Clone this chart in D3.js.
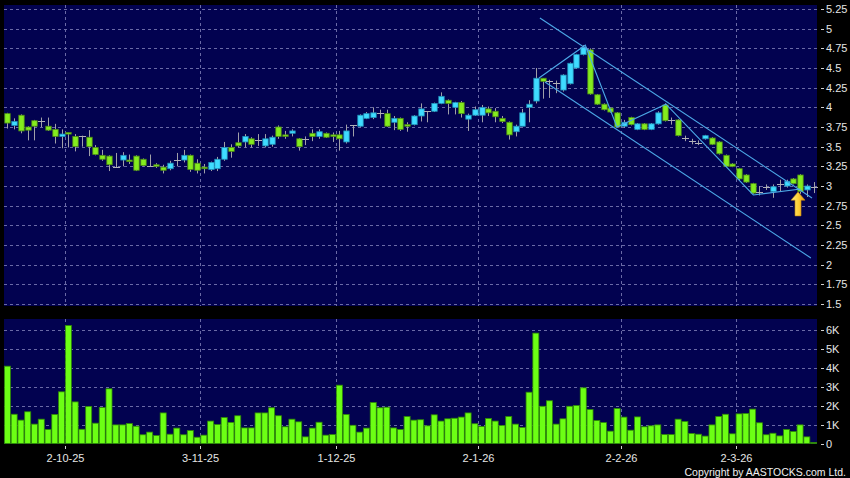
<!DOCTYPE html>
<html><head><meta charset="utf-8">
<script src="https://cdn.jsdelivr.net/npm/d3@7"></script>
<style>body{margin:0;background:#000;} svg{display:block;}</style>
</head><body><svg id="c" width="850" height="478"></svg>
<script>
const opens = [3.92,3.77,3.90,3.75,3.83,3.82,3.76,3.72,3.63,3.68,
3.63,3.63,3.62,3.49,3.39,3.38,3.24,3.33,3.33,3.38,
3.34,3.25,3.27,3.24,3.22,3.33,3.33,3.39,3.29,3.24,
3.21,3.22,3.34,3.49,3.55,3.56,3.60,3.59,3.51,3.53,
3.75,3.65,3.67,3.60,3.60,3.67,3.63,3.67,3.65,3.65,
3.56,3.77,3.76,3.86,3.87,3.93,3.92,3.81,3.86,3.78,
3.78,3.89,3.95,3.95,4.05,4.09,4.00,4.06,3.85,3.90,
3.90,3.98,3.95,3.86,3.81,3.69,3.76,4.00,4.08,4.37,
4.33,4.31,4.22,4.30,4.50,4.67,4.73,4.16,4.04,3.99,
3.93,3.76,3.87,3.72,3.79,3.72,3.79,4.03,3.84,3.84,
3.61,3.57,3.55,3.60,3.61,3.56,3.39,3.28,3.22,3.14,
3.03,2.93,2.99,2.93,3.02,3.00,3.09,3.14,2.95,2.99];
const highs = [3.93,3.86,3.91,3.76,3.84,3.87,3.87,3.79,3.72,3.68,
3.66,3.64,3.71,3.52,3.46,3.39,3.42,3.43,3.40,3.39,
3.35,3.40,3.29,3.27,3.32,3.42,3.46,3.40,3.34,3.28,
3.31,3.37,3.56,3.53,3.68,3.66,3.62,3.66,3.66,3.64,
3.77,3.70,3.72,3.61,3.63,3.72,3.72,3.68,3.68,3.70,
3.78,3.77,3.91,3.94,4.00,3.97,3.97,3.89,3.87,3.81,
3.90,4.05,3.95,4.06,4.19,4.10,4.07,4.08,3.92,4.01,
4.03,4.01,3.99,3.89,3.82,3.78,3.98,4.09,4.50,4.37,
4.35,4.34,4.42,4.57,4.68,4.79,4.75,4.17,4.05,4.00,
3.94,3.84,3.88,3.80,3.80,3.80,3.95,4.05,3.87,3.85,
3.64,3.60,3.58,3.65,3.62,3.57,3.40,3.29,3.23,3.15,
3.04,3.00,3.02,3.02,3.08,3.08,3.10,3.15,3.02,3.05];
const lows = [3.73,3.72,3.67,3.58,3.58,3.75,3.70,3.54,3.48,3.49,
3.44,3.50,3.38,3.39,3.32,3.19,3.23,3.25,3.28,3.19,
3.25,3.25,3.23,3.16,3.20,3.25,3.30,3.18,3.16,3.16,
3.19,3.19,3.32,3.36,3.49,3.49,3.49,3.51,3.49,3.50,
3.60,3.60,3.63,3.45,3.52,3.57,3.60,3.61,3.56,3.45,
3.54,3.63,3.75,3.85,3.85,3.86,3.75,3.71,3.70,3.69,
3.77,3.82,3.81,3.94,4.04,3.91,3.91,3.87,3.70,3.89,
3.81,3.89,3.81,3.80,3.59,3.63,3.76,3.81,4.05,4.11,
4.12,4.18,4.20,4.29,4.49,4.66,4.16,4.03,3.96,3.93,
3.74,3.74,3.77,3.71,3.71,3.71,3.78,3.82,3.78,3.63,
3.57,3.53,3.52,3.59,3.52,3.40,3.24,3.24,3.07,3.04,
2.90,2.88,2.95,2.85,2.93,2.98,3.02,2.90,2.86,2.91];
const closes = [3.80,3.82,3.70,3.71,3.76,3.82,3.71,3.63,3.66,3.66,
3.50,3.63,3.50,3.40,3.34,3.27,3.24,3.39,3.31,3.20,
3.26,3.25,3.25,3.20,3.29,3.33,3.39,3.21,3.20,3.22,
3.30,3.34,3.49,3.44,3.51,3.63,3.53,3.59,3.60,3.62,
3.63,3.63,3.70,3.50,3.60,3.63,3.69,3.62,3.63,3.60,
3.70,3.77,3.90,3.92,3.93,3.93,3.76,3.86,3.72,3.76,
3.89,3.98,3.95,4.05,4.14,4.05,4.06,3.92,3.90,3.97,
4.00,3.93,3.88,3.82,3.65,3.76,3.93,4.04,4.37,4.33,
4.33,4.31,4.41,4.56,4.67,4.76,4.17,4.04,3.97,3.94,
3.75,3.81,3.78,3.79,3.72,3.79,3.93,3.83,3.84,3.64,
3.61,3.57,3.55,3.64,3.53,3.41,3.25,3.25,3.09,3.05,
2.91,2.93,2.99,2.99,3.02,3.06,3.03,2.93,3.00,2.99];
const volumes = [4.07,1.54,1.23,1.67,1.02,1.28,0.74,1.53,2.72,6.21,
2.19,0.75,1.95,1.07,1.89,2.88,0.98,0.98,1.05,0.91,
0.46,0.60,0.42,1.61,0.49,0.81,0.46,0.68,0.33,0.44,
1.18,1.00,1.37,1.11,1.46,0.82,0.82,1.61,1.61,1.88,
1.46,0.88,1.28,1.14,0.35,0.81,1.12,0.44,0.47,3.07,
1.53,0.96,0.60,0.81,2.16,1.88,1.91,0.82,0.74,1.42,
1.23,1.25,0.93,1.51,1.18,1.30,1.33,1.39,1.61,1.04,
0.89,1.32,1.18,0.95,1.42,1.02,0.84,2.70,5.81,1.96,
2.25,1.02,1.30,1.96,2.00,2.93,1.79,1.21,1.10,0.65,
1.84,1.39,0.70,1.40,0.88,0.93,0.98,0.47,0.47,1.28,
1.16,0.53,0.49,0.39,0.98,1.42,1.54,0.51,1.56,1.58,
1.81,1.09,0.46,0.54,0.40,0.74,0.63,0.98,0.35,0.05];
const priceTicks = [1.5,1.75,2,2.25,2.5,2.75,3,3.25,3.5,3.75,4,4.25,4.5,4.75,5,5.25];
const priceTickLabels = ["1.5","1.75","2","2.25","2.5","2.75","3","3.25","3.5","3.75","4","4.25","4.5","4.75","5","5.25"];
const volTicks = [0,1,2,3,4,5,6];
const volTickLabels = ["0","1K","2K","3K","4K","5K","6K"];
const monthStartIdx = [9,29,49,70,91,108];
const monthLabels = ["2-10-25","3-11-25","1-12-25","2-1-26","2-2-26","2-3-26"];
const channelUpper = [[78.6,5.136],[118.76,2.848]];
const channelLower = [[79.35,4.322],[118.6,2.085]];
const zigzag = [[78.47,4.373],[85.3,4.79],[89.97,3.75],[97.2,4.04],[110.1,2.886],[117.1,2.962]];
const arrowIdx = 116.7, arrowTip = 2.925, arrowHeadBase = 2.82, arrowTail = 2.62;

const n = opens.length;
const svg = d3.select("#c");
svg.append("rect").attr("width",850).attr("height",478).attr("fill","#000");

const L = 4, R = 817;
const pTop = 5, pBot = 306, vTop = 319, vBot = 444;
const x = d3.scaleBand().domain(d3.range(n)).range([L, R]).paddingInner(0.2).paddingOuter(0.1);
const step = x.step();
const xc = d3.scaleLinear().domain([0, n-1]).range([x(0)+x.bandwidth()/2, x(n-1)+x.bandwidth()/2]);
const y = d3.scaleLinear().domain([1.5, 5.25]).range([304, 9]);
const yv = d3.scaleLinear().domain([0, 6]).range([443.5, 329.5]);

const bg = "#020250";
const gridC = "#6a6aa6";
svg.append("rect").attr("x",L).attr("y",pTop).attr("width",R-L).attr("height",pBot-pTop).attr("fill",bg);
svg.append("rect").attr("x",L).attr("y",vTop).attr("width",R-L).attr("height",vBot-vTop).attr("fill",bg);

const bx = i => xc(i) - step/2;
// grids
const g = svg.append("g").attr("stroke",gridC).attr("stroke-width",1).attr("stroke-dasharray","3,3").attr("shape-rendering","crispEdges");
priceTicks.forEach(t => g.append("line").attr("x1",L).attr("x2",R).attr("y1",Math.round(y(t))+0.5).attr("y2",Math.round(y(t))+0.5));
volTicks.slice(1).forEach(t => g.append("line").attr("x1",L).attr("x2",R).attr("y1",Math.round(yv(t))+0.5).attr("y2",Math.round(yv(t))+0.5));
monthStartIdx.forEach(i => {
  const xx = Math.round(bx(i))+0.5;
  g.append("line").attr("x1",xx).attr("x2",xx).attr("y1",pTop).attr("y2",pBot);
  g.append("line").attr("x1",xx).attr("x2",xx).attr("y1",vTop).attr("y2",vBot);
});

// candles
const cg = svg.append("g");
const bw = x.bandwidth();
for (let i=0;i<n;i++){
  const cx = Math.round(xc(i))+0.5;
  const o=opens[i], c=closes[i];
  cg.append("line").attr("x1",cx).attr("x2",cx).attr("y1",y(highs[i])).attr("y2",y(lows[i]))
    .attr("stroke","#a0a0a8").attr("stroke-width",1);
  if (o===c){
    cg.append("line").attr("x1",cx-3.5).attr("x2",cx+3.5).attr("y1",Math.round(y(c))+0.5).attr("y2",Math.round(y(c))+0.5)
      .attr("stroke","#b0b0b8").attr("stroke-width",1);
  } else {
    const up = c>o;
    const top = y(Math.max(o,c)), h = Math.max(1, Math.abs(y(o)-y(c)));
    cg.append("rect").attr("x",cx-bw/2).attr("y",top).attr("width",bw).attr("height",h)
      .attr("fill", up ? "#3fdcff" : "#84ec1e")
      .attr("stroke", up ? "#2090b8" : "#4c8c14").attr("stroke-width",0.8);
  }
}

// volume bars
svg.append("g").selectAll("rect").data(volumes).join("rect")
  .attr("x",(d,i)=>xc(i)-bw/2-0.3).attr("width",bw+0.6)
  .attr("y",d=>yv(d)).attr("height",d=>yv(0)-yv(d))
  .attr("fill","#6cff14").attr("stroke","#2f8a06").attr("stroke-width",0.8);

// trend lines
const line = d3.line().x(d=>xc(d[0])).y(d=>y(d[1]));
const tl = svg.append("g").attr("fill","none").attr("stroke","#4ca8e6").attr("stroke-width",1.1);
tl.append("path").attr("d",line(channelUpper));
tl.append("path").attr("d",line(channelLower));
tl.append("path").attr("d",line(zigzag));

// arrow
const defs = svg.append("defs");
const grad = defs.append("linearGradient").attr("id","ag").attr("x1",0).attr("x2",1).attr("y1",0).attr("y2",0);
grad.append("stop").attr("offset","0%").attr("stop-color","#fff07a");
grad.append("stop").attr("offset","55%").attr("stop-color","#ffcc33");
grad.append("stop").attr("offset","100%").attr("stop-color","#e09a10");
const ax = xc(arrowIdx);
const ap = [[ax, y(arrowTip)],[ax+7, y(arrowHeadBase)],[ax+3, y(arrowHeadBase)],[ax+3, y(arrowTail)],
            [ax-3, y(arrowTail)],[ax-3, y(arrowHeadBase)],[ax-7, y(arrowHeadBase)]];
svg.append("path").attr("d","M"+ap.map(p=>p.join(",")).join("L")+"Z").attr("fill","url(#ag)").attr("stroke","#c88a10").attr("stroke-width",0.6);

// right axes
const font = "Arial, 'Liberation Sans', sans-serif";
const ax1 = svg.append("g").attr("font-family",font).attr("font-size",11).attr("fill","#e6e6e6");
priceTicks.forEach((t,k)=>{
  const yy = Math.round(y(t))+0.5;
  ax1.append("line").attr("x1",821).attr("x2",824).attr("y1",yy).attr("y2",yy).attr("stroke","#d0d0d0");
  ax1.append("text").attr("x",826).attr("y",yy).attr("dy","0.36em").text(priceTickLabels[k]);
});
volTicks.forEach((t,k)=>{
  const yy = Math.round(yv(t))+0.5;
  ax1.append("line").attr("x1",821).attr("x2",824).attr("y1",yy).attr("y2",yy).attr("stroke","#d0d0d0");
  ax1.append("text").attr("x",826).attr("y",yy).attr("dy","0.36em").text(volTickLabels[k]);
});
// x axis
monthStartIdx.forEach((i,k)=>{
  const xx = Math.round(bx(i))+0.5;
  ax1.append("line").attr("x1",xx).attr("x2",xx).attr("y1",446).attr("y2",449).attr("stroke","#d0d0d0");
  ax1.append("text").attr("x",xx).attr("y",462).attr("text-anchor","middle").text(monthLabels[k]);
});
svg.append("text").attr("x",846).attr("y",475.5).attr("text-anchor","end").attr("font-family",font)
  .attr("font-size",10.5).attr("fill","#f0f0f0").text("Copyright by AASTOCKS.com Ltd.");
</script>
</body></html>
